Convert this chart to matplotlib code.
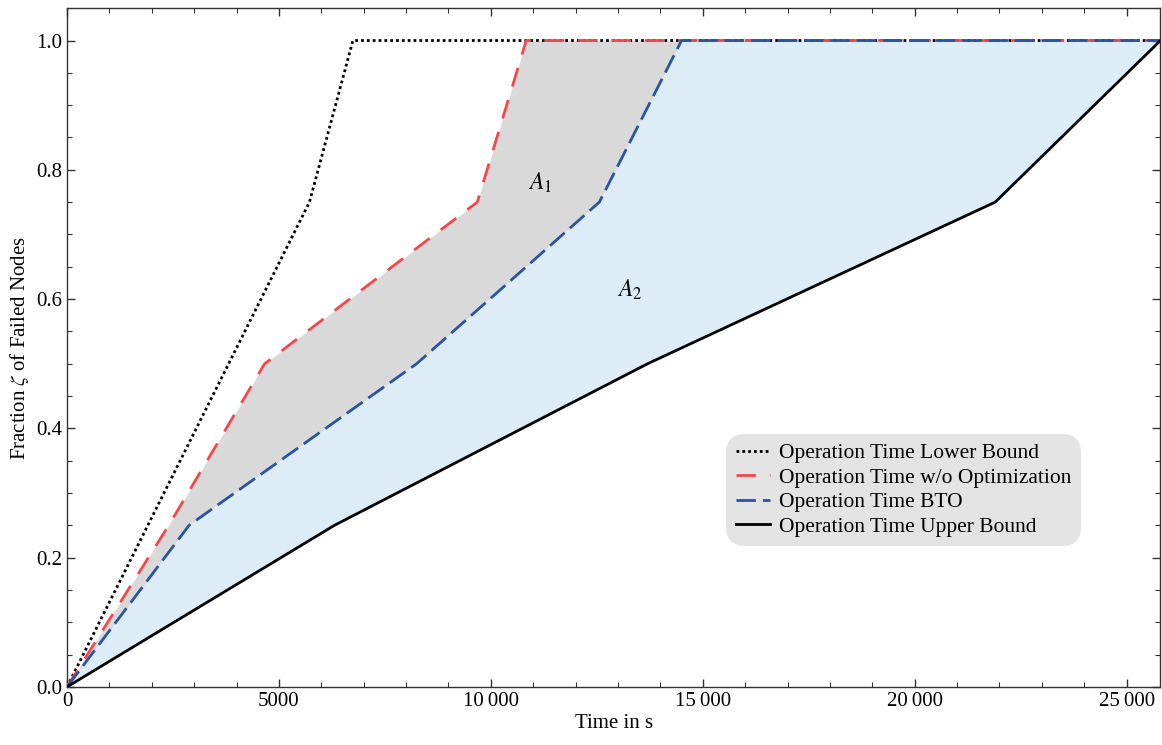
import numpy as np
from matplotlib import pyplot as plt
from matplotlib.ticker import MultipleLocator, FuncFormatter

plt.rcParams['font.family'] = ['Liberation Serif', 'DejaVu Serif']
plt.rcParams['mathtext.fontset'] = 'stix'

# data (time in s, fraction of failed nodes)
lower_t = [0, 5720, 6745, 25800]
lower_z = [0, 0.75, 1.0, 1.0]

woopt_t = [0, 2400, 4663, 9680, 10835, 25800]
woopt_z = [0, 0.25, 0.5, 0.75, 1.0, 1.0]

bto_t = [0, 2880, 8250, 12560, 14500, 25800]
bto_z = [0, 0.25, 0.5, 0.75, 1.0, 1.0]

upper_t = [0, 6310, 13700, 21900, 25800]
upper_z = [0, 0.25, 0.5, 0.75, 1.0]

# common grid for the shaded areas
grid = np.unique(np.concatenate([lower_t, woopt_t, bto_t, upper_t]))
red_i = np.interp(grid, woopt_t, woopt_z)
blue_i = np.interp(grid, bto_t, bto_z)
black_i = np.interp(grid, upper_t, upper_z)

fig = plt.figure(figsize=(11.62, 7.45), dpi=100)
ax = fig.add_axes([0.0577, 0.078, 0.941, 0.911])

ax.fill_between(grid, blue_i, red_i, color='#d9d9d9', lw=0, zorder=1)
ax.fill_between(grid, black_i, blue_i, color='#ddedf8', lw=0, zorder=1)

ax.plot(lower_t, lower_z, color='black', lw=2, ls=(0, (1, 1.1)), label='Operation Time Lower Bound', zorder=3)
ax.plot(woopt_t, woopt_z, color='#ee4a4d', lw=2, ls=(0, (7, 5)), label='Operation Time w/o Optimization', zorder=3)
ax.plot(bto_t, bto_z, color='#2a52a6', lw=2, ls=(0, (7, 2.5)), label='Operation Time BTO', zorder=4)
ax.plot(upper_t, upper_z, color='black', lw=2, label='Operation Time Upper Bound', zorder=5)

ax.text(11150, 0.78, '$A_1$', fontsize=17, ha='center', va='center')
ax.text(13270, 0.615, '$A_2$', fontsize=17, ha='center', va='center')

ax.set_xlim(0, 25800)
ax.set_ylim(0, 1.05)
ax.xaxis.set_major_locator(MultipleLocator(5000))
ax.xaxis.set_minor_locator(MultipleLocator(1000))
ax.yaxis.set_major_locator(MultipleLocator(0.2))
ax.yaxis.set_minor_locator(MultipleLocator(0.05))
ax.xaxis.set_major_formatter(FuncFormatter(lambda v, p: '{:,.0f}'.format(v).replace(',', '\u2009') if v >= 10000 else '{:.0f}'.format(v)))
ax.yaxis.set_major_formatter(FuncFormatter(lambda v, p: '{:.1f}'.format(v)))
ax.tick_params(which='both', direction='in', top=True, right=True, labelsize=15, color='#333333')
ax.tick_params(which='major', length=6, width=1)
ax.tick_params(which='minor', length=3.5, width=0.8)
for s in ax.spines.values():
    s.set_color('#333333')
    s.set_linewidth(1)

ax.set_xlabel('Time in s', fontsize=15, labelpad=2)
ax.set_ylabel('Fraction $\\zeta$ of Failed Nodes', fontsize=15, labelpad=4)

leg = ax.legend(loc='upper left', bbox_to_anchor=(0.593, 0.389), fontsize=15.5, frameon=True,
                fancybox=True, facecolor='#e3e3e3', edgecolor='none', framealpha=1,
                handlelength=1.6, handletextpad=0.4, labelspacing=0.2, borderpad=0.45)
leg.get_frame().set_boxstyle('round,pad=0,rounding_size=0.9')

fig.savefig('out.png', dpi=100)
